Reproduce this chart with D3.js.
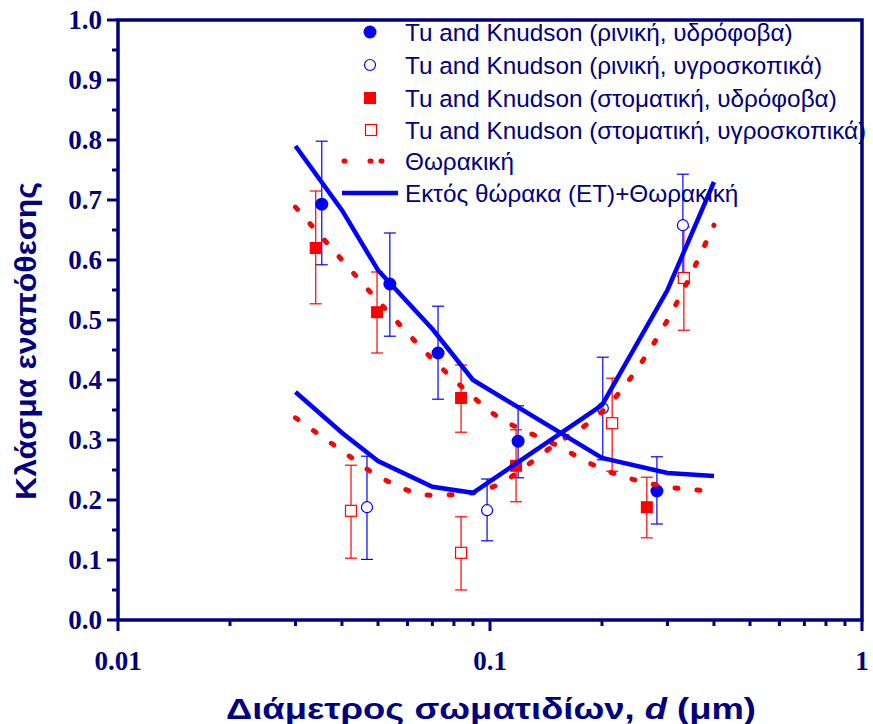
<!DOCTYPE html>
<html>
<head>
<meta charset="utf-8">
<script src="https://cdn.jsdelivr.net/npm/d3@7"></script>
<style>
  body { margin: 0; background: #fff; }
  svg { display: block; }
</style>
</head>
<body>
<svg id="chart" width="873" height="724"></svg>
<script>
// data
var nasalHydro   = [[0.0353, 0.693, 0.798, 0.592], [0.0538, 0.560, 0.645, 0.473], [0.0725, 0.445, 0.523, 0.368], [0.119, 0.298, 0.357, 0.237], [0.281, 0.215, 0.272, 0.160]];
var nasalHygro   = [[0.0467, 0.188, 0.273, 0.101], [0.0982, 0.183, 0.235, 0.132], [0.201, 0.353, 0.438, 0.267], [0.330, 0.658, 0.743, 0.573]];
var oralHydro    = [[0.0340, 0.620, 0.715, 0.527], [0.0497, 0.513, 0.580, 0.445], [0.0836, 0.370, 0.425, 0.313], [0.1175, 0.257, 0.317, 0.197], [0.264, 0.188, 0.238, 0.137]];
var oralHygro    = [[0.0423, 0.182, 0.258, 0.103], [0.0836, 0.112, 0.172, 0.050], [0.213, 0.328, 0.403, 0.248], [0.332, 0.570, 0.655, 0.483]];

var dLine   = [0.03, 0.04, 0.05, 0.07, 0.09, 0.2, 0.3, 0.4];
var etDown  = [0.79, 0.683, 0.583, 0.485, 0.40, 0.27, 0.245, 0.24];
var etUp    = [0.38, 0.312, 0.265, 0.222, 0.212, 0.358, 0.55, 0.73];

var dThor   = [0.03, 0.04, 0.05, 0.07, 0.09, 0.1, 0.15, 0.2, 0.3, 0.4];
var thorDown = [0.688, 0.60, 0.532, 0.435, 0.372, 0.348, 0.292, 0.252, 0.222, 0.215];
var thorUp   = [0.337, 0.282, 0.24, 0.208, 0.212, 0.22, 0.293, 0.347, 0.50, 0.658];

var yTicks = [0, 0.1, 0.2, 0.3, 0.4, 0.5, 0.6, 0.7, 0.8, 0.9, 1.0];
var xTicks = [0.01, 0.1, 1];
var legendLabels = ["Tu and Knudson (ρινική, υδρόφοβα)", "Tu and Knudson (ρινική, υγροσκοπικά)",
                    "Tu and Knudson (στοματική, υδρόφοβα)", "Tu and Knudson (στοματική, υγροσκοπικά)",
                    "Θωρακική", "Εκτός θώρακα (ΕΤ)+Θωρακική"];

var navy = "#000080", blue = "#0000ff", red = "#ff0000";
var svg = d3.select("#chart");
var pLeft = 118, pRight = 862, pTop = 20, pBottom = 620;

var x = d3.scaleLog().domain([0.01, 1]).range([pLeft, pRight]);
var y = d3.scaleLinear().domain([0, 1]).range([pBottom, pTop]);

// minor ticks
var yMinor = d3.range(0.05, 1, 0.1);
var xMinor = [];
[0.01, 0.1].forEach(function(b){ for (var k = 2; k <= 9; k++) xMinor.push(b * k); });

var g = svg.append("g");

g.selectAll(".ymin").data(yMinor).enter().append("line")
  .attr("x1", pLeft - 6).attr("x2", pLeft).attr("y1", d => y(d)).attr("y2", d => y(d))
  .attr("stroke", navy).attr("stroke-width", 3);
g.selectAll(".ymaj").data(yTicks).enter().append("line")
  .attr("x1", pLeft - 11).attr("x2", pLeft).attr("y1", d => y(d)).attr("y2", d => y(d))
  .attr("stroke", navy).attr("stroke-width", 3);
g.selectAll(".xmin").data(xMinor).enter().append("line")
  .attr("x1", d => x(d)).attr("x2", d => x(d)).attr("y1", pBottom).attr("y2", pBottom + 6)
  .attr("stroke", navy).attr("stroke-width", 3);
g.selectAll(".xmaj").data(xTicks).enter().append("line")
  .attr("x1", d => x(d)).attr("x2", d => x(d)).attr("y1", pBottom).attr("y2", pBottom + 11)
  .attr("stroke", navy).attr("stroke-width", 3);

g.append("rect").attr("x", pLeft).attr("y", pTop).attr("width", pRight - pLeft).attr("height", pBottom - pTop)
  .attr("fill", "none").attr("stroke", navy).attr("stroke-width", 3.5);

g.selectAll(".ylab").data(yTicks).enter().append("text")
  .attr("x", pLeft - 16).attr("y", d => y(d)).attr("dy", "0.35em")
  .attr("text-anchor", "end")
  .style("font", "bold 27px 'Liberation Serif'").attr("fill", navy)
  .text(d => d.toFixed(1));
g.selectAll(".xlab").data(xTicks).enter().append("text")
  .attr("x", d => x(d)).attr("y", 670)
  .attr("text-anchor", "middle")
  .style("font", "bold 27px 'Liberation Serif'").attr("fill", navy)
  .text(d => d);

g.append("text").attr("transform", "translate(36,341) rotate(-90)")
  .attr("text-anchor", "middle").style("font", "bold 30px 'Liberation Sans'").attr("fill", navy)
  .attr("textLength", 318).attr("lengthAdjust", "spacingAndGlyphs")
  .text("Κλάσμα εναπόθεσης");
var xt = g.append("text").attr("x", 491).attr("y", 719)
  .attr("text-anchor", "middle").style("font", "bold 29px 'Liberation Sans'").attr("fill", navy)
  .attr("textLength", 530).attr("lengthAdjust", "spacingAndGlyphs");
xt.append("tspan").text("Διάμετρος σωματιδίων, ");
xt.append("tspan").style("font-style", "italic").text("d");
xt.append("tspan").text(" (μm)");

// error bars
function errBars(data, col) {
  var eb = g.append("g").attr("stroke", col).attr("stroke-width", 1.2);
  data.forEach(function(p){
    eb.append("line").attr("x1", x(p[0])).attr("x2", x(p[0])).attr("y1", y(p[2])).attr("y2", y(p[3]));
    eb.append("line").attr("x1", x(p[0]) - 6).attr("x2", x(p[0]) + 6).attr("y1", y(p[2])).attr("y2", y(p[2]));
    eb.append("line").attr("x1", x(p[0]) - 6).attr("x2", x(p[0]) + 6).attr("y1", y(p[3])).attr("y2", y(p[3]));
  });
}
errBars(nasalHydro, blue); errBars(nasalHygro, blue);
errBars(oralHydro, red); errBars(oralHygro, red);

// markers
g.selectAll(".nh").data(nasalHydro).enter().append("circle")
  .attr("cx", d => x(d[0])).attr("cy", d => y(d[1])).attr("r", 6.5).attr("fill", blue);
g.selectAll(".ng").data(nasalHygro).enter().append("circle")
  .attr("cx", d => x(d[0])).attr("cy", d => y(d[1])).attr("r", 5.5)
  .attr("fill", "#fff").attr("stroke", blue).attr("stroke-width", 1.2);
g.selectAll(".oh").data(oralHydro).enter().append("rect")
  .attr("x", d => x(d[0]) - 6).attr("y", d => y(d[1]) - 6).attr("width", 12).attr("height", 12).attr("fill", red);
g.selectAll(".og").data(oralHygro).enter().append("rect")
  .attr("x", d => x(d[0]) - 5.5).attr("y", d => y(d[1]) - 5.5).attr("width", 11).attr("height", 11)
  .attr("fill", "#fff").attr("stroke", red).attr("stroke-width", 1.2);

// curves
var lineGen = d3.line().x(d => x(d[0])).y(d => y(d[1]));
var thorGen = d3.line().x(d => x(d[0])).y(d => y(d[1])).curve(d3.curveMonotoneX);
[thorDown, thorUp].forEach(function(s){
  g.append("path").attr("d", thorGen(d3.zip(dThor, s)))
    .attr("fill", "none").attr("stroke", red).attr("stroke-width", 5)
    .attr("stroke-linecap", "round").attr("stroke-dasharray", "3,19");
});
[etDown, etUp].forEach(function(s){
  g.append("path").attr("d", lineGen(d3.zip(dLine, s)))
    .attr("fill", "none").attr("stroke", blue).attr("stroke-width", 4.5);
});

// legend
var legY = [32, 65, 98, 130, 161, 193];
var lg = svg.append("g");
lg.selectAll("text").data(legendLabels).enter().append("text")
  .attr("x", 405).attr("y", (d, i) => legY[i]).attr("dy", "0.36em")
  .style("font", "24.3px 'Liberation Sans'").attr("fill", navy)
  .text(d => d);
lg.append("circle").attr("cx", 370).attr("cy", legY[0]).attr("r", 6.5).attr("fill", blue);
lg.append("circle").attr("cx", 370).attr("cy", legY[1]).attr("r", 5.5).attr("fill", "#fff").attr("stroke", blue).attr("stroke-width", 1.2);
lg.append("rect").attr("x", 364).attr("y", legY[2] - 6).attr("width", 12).attr("height", 12).attr("fill", red);
lg.append("rect").attr("x", 365.5).attr("y", legY[3] - 5.5).attr("width", 11).attr("height", 11).attr("fill", "#fff").attr("stroke", red).attr("stroke-width", 1.2);
lg.append("line").attr("x1", 344).attr("x2", 382).attr("y1", legY[4]).attr("y2", legY[4])
  .attr("stroke", red).attr("stroke-width", 5).attr("stroke-linecap", "round").attr("stroke-dasharray", "1,25,1,10");
lg.append("line").attr("x1", 342).attr("x2", 398).attr("y1", legY[5]).attr("y2", legY[5])
  .attr("stroke", blue).attr("stroke-width", 4.5);
</script>
</body>
</html>
